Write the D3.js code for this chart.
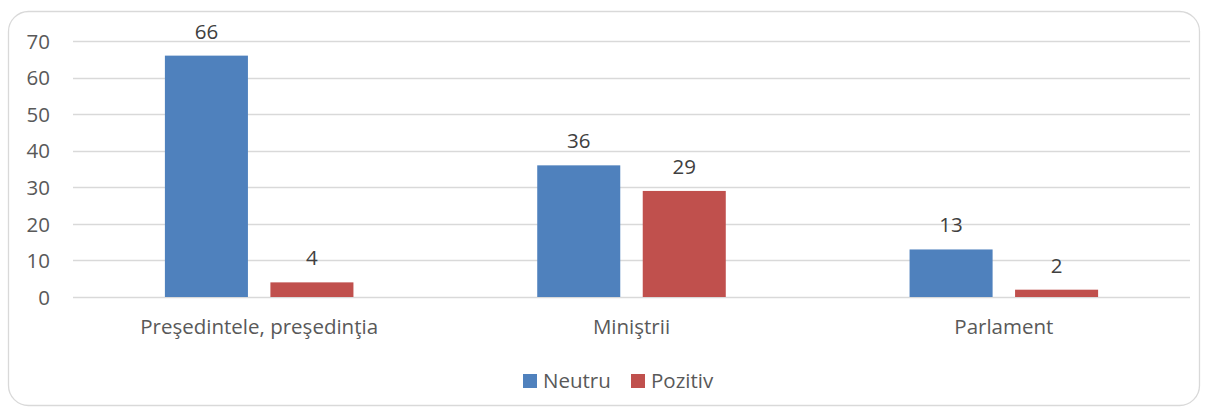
<!DOCTYPE html>
<html>
<head>
<meta charset="utf-8">
<script src="https://cdn.jsdelivr.net/npm/d3@7"></script>
<style>
  body { margin: 0; background: #fff; }
  svg text { font-family: "Open Sans", sans-serif; }
</style>
</head>
<body>
<svg id="chart" width="1208" height="412"></svg>
<script>
// chart data
var categories = ["Preşedintele, preşedinţia", "Miniştrii", "Parlament"];
var seriesNames = ["Neutru", "Pozitiv"];
var neutru = [66, 36, 13];
var pozitiv = [4, 29, 2];
var yTicks = [0, 10, 20, 30, 40, 50, 60, 70];
var colors = ["#4f81bd", "#c0504d"];

var fs = "20.5px";
var svg = d3.select("#chart");

// outer frame
svg.append("rect")
	.attr("x", 8.5).attr("y", 11.5)
	.attr("width", 1191).attr("height", 394)
	.attr("rx", 20).attr("ry", 20)
	.style("fill", "#fff")
	.style("stroke", "#d9d9d9")
	.style("stroke-width", 1.3);

var pLeft = 73, pRight = 1190, pTop = 41, pBottom = 297;

var x = d3.scaleBand().domain(categories).range([pLeft, pRight]).paddingInner(0).paddingOuter(0);
var inner = d3.scaleBand().domain(seriesNames).range([0, x.bandwidth()]).paddingInner(0.213).paddingOuter(0.871);
var y = d3.scaleLinear().domain([0, 70]).range([pBottom, pTop]);

// gridlines
svg.append("g").selectAll("line")
	.data(yTicks)
	.enter()
	.append("line")
	.attr("x1", pLeft).attr("x2", pRight)
	.attr("y1", function(d) { return Math.round(y(d)) + 0.5; })
	.attr("y2", function(d) { return Math.round(y(d)) + 0.5; })
	.style("stroke", "#d9d9d9")
	.style("stroke-width", 1.3);

// y axis labels
var yAxis = d3.axisLeft(y).tickValues(yTicks).tickSize(0).tickPadding(0);
var gy = svg.append("g").attr("transform", "translate(50,0)").call(yAxis);
gy.select(".domain").remove();
gy.selectAll("text")
	.style("font-size", fs)
	.style("font-family", "'Open Sans', sans-serif")
	.style("fill", "#595959")
	.attr("dy", "0.35em");

// x axis labels
var xAxis = d3.axisBottom(x).tickSize(0).tickPadding(0);
var gx = svg.append("g").attr("transform", "translate(0," + pBottom + ")").call(xAxis);
gx.select(".domain").remove();
gx.selectAll("text")
	.attr("y", 37).attr("dy", 0)
	.style("font-size", fs)
	.style("font-family", "'Open Sans', sans-serif")
	.style("fill", "#595959");

// bars
var rows = categories.map(function(c, i) {
	return [
		{ cat: c, s: seriesNames[0], v: neutru[i], col: colors[0] },
		{ cat: c, s: seriesNames[1], v: pozitiv[i], col: colors[1] }
	];
});
var groups = svg.append("g").selectAll("g")
	.data(rows)
	.enter()
	.append("g")
	.attr("transform", function(d) { return "translate(" + x(d[0].cat) + ",0)"; });

groups.selectAll("rect")
	.data(function(d) { return d; })
	.enter()
	.append("rect")
	.attr("x", function(d) { return inner(d.s); })
	.attr("width", inner.bandwidth())
	.attr("y", function(d) { return y(d.v); })
	.attr("height", function(d) { return pBottom - y(d.v); })
	.style("fill", function(d) { return d.col; });

groups.selectAll("text")
	.data(function(d) { return d; })
	.enter()
	.append("text")
	.attr("x", function(d) { return inner(d.s) + inner.bandwidth() / 2; })
	.attr("y", function(d) { return y(d.v) - 17; })
	.attr("text-anchor", "middle")
	.style("font-size", fs)
	.style("fill", "#404040")
	.text(function(d) { return d.v; });

// legend
var legend = svg.append("g").attr("transform", "translate(523,374)");
var lx = [0, 108];
seriesNames.forEach(function(name, i) {
	var item = legend.append("g").attr("transform", "translate(" + lx[i] + ",0)");
	item.append("rect").attr("width", 14).attr("height", 14).style("fill", colors[i]);
	item.append("text").attr("x", 20).attr("y", 14)
		.style("font-size", fs)
		.style("fill", "#595959")
		.text(name);
});
</script>
</body>
</html>
